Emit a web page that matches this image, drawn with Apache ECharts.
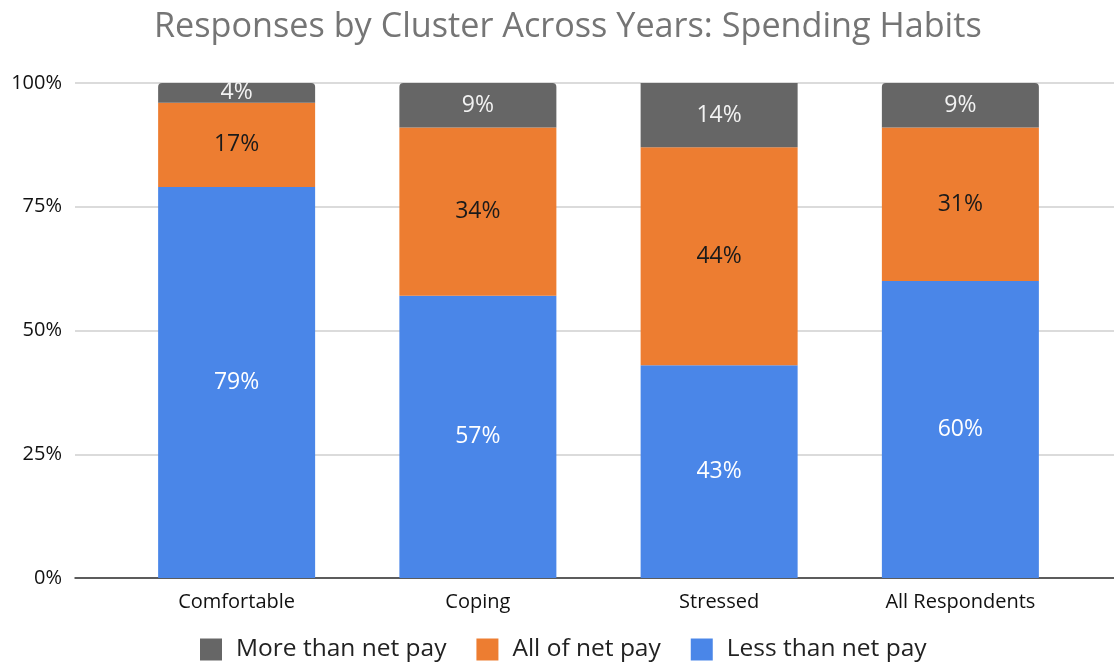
<!DOCTYPE html>
<html>
<head>
<meta charset="utf-8">
<script src="https://cdn.jsdelivr.net/npm/echarts@6/dist/echarts.min.js"></script>
<style>
  html, body { margin: 0; padding: 0; background: #fff; }
  #chart { width: 1114px; height: 664px; }
</style>
</head>
<body>
<div id="chart"></div>
<script>
const categories = ['Comfortable', 'Coping', 'Stressed', 'All Respondents'];
const lessThanNetPay = [79, 57, 43, 60];
const allOfNetPay = [17, 34, 44, 31];
const moreThanNetPay = [4, 9, 14, 9];
const yTicks = [0, 25, 50, 75, 100];

const FONT = '"Open Sans", "Noto Sans", sans-serif';
const Y_MAX = yTicks[yTicks.length - 1];
const chart = echarts.init(document.getElementById('chart'));

// Top segments get rounded corners unless the stack runs past the axis max (then it is clipped flat).
function topData(values) {
  return values.map(function (v, i) {
    const total = lessThanNetPay[i] + allOfNetPay[i] + v;
    return { value: v, itemStyle: { borderRadius: total > Y_MAX ? 0 : [4, 4, 0, 0] } };
  });
}

function seg(name, data, color, labelColor) {
  return {
    name: name,
    type: 'bar',
    stack: 'total',
    xAxisIndex: 1,
    yAxisIndex: 1,
    barWidth: 157,
    data: data,
    clip: true,
    itemStyle: { color: color },
    label: {
      show: true,
      position: 'inside',
      formatter: '{c}%',
      color: labelColor,
      fontFamily: FONT,
      fontSize: 23
    },
    emphasis: { disabled: true }
  };
}

chart.setOption({
  animation: false,
  title: {
    text: 'Responses by Cluster Across Years: Spending Habits',
    left: 149,
    top: 5,
    textStyle: { color: '#757575', fontFamily: FONT, fontSize: 34.2, fontWeight: 'normal' }
  },
  legend: {
    bottom: -3,
    left: 195,
    itemWidth: 22,
    itemHeight: 22,
    itemGap: 30,
    icon: 'rect',
    data: ['More than net pay', 'All of net pay', 'Less than net pay'],
    textStyle: { color: '#222', fontFamily: FONT, fontSize: 24.5, padding: [0, 0, 0, 9] }
  },
  grid: [
    { left: 75, right: 0, top: 83, bottom: 86 },
    { left: 116, right: 33, top: 83, bottom: 86 }
  ],
  xAxis: [
    {
      gridIndex: 0, type: 'value', min: 0, max: 1,
      axisLine: { show: true, lineStyle: { color: '#333', width: 1.5 } },
      axisTick: { show: false }, axisLabel: { show: false }, splitLine: { show: false }
    },
    {
      gridIndex: 1, type: 'category', data: categories,
      axisLine: { show: false }, axisTick: { show: false },
      axisLabel: { color: '#111', fontFamily: FONT, fontSize: 20, margin: 14 }
    }
  ],
  yAxis: [
    {
      gridIndex: 0, type: 'value', min: yTicks[0], max: Y_MAX, interval: 25,
      axisLine: { show: false }, axisTick: { show: false },
      axisLabel: { color: '#111', fontFamily: FONT, fontSize: 20, margin: 13, formatter: '{value}%' },
      splitLine: { lineStyle: { color: '#cfcfcf', width: 1.5 } }
    },
    {
      gridIndex: 1, type: 'value', min: 0, max: Y_MAX, interval: 25,
      show: false, splitLine: { show: false }
    }
  ],
  series: [
    seg('Less than net pay', lessThanNetPay, '#4A86E8', '#ffffff'),
    seg('All of net pay', allOfNetPay, '#ED7D31', '#1a1a1a'),
    seg('More than net pay', topData(moreThanNetPay), '#666666', '#f2f2f2')
  ]
});
</script>
</body>
</html>
